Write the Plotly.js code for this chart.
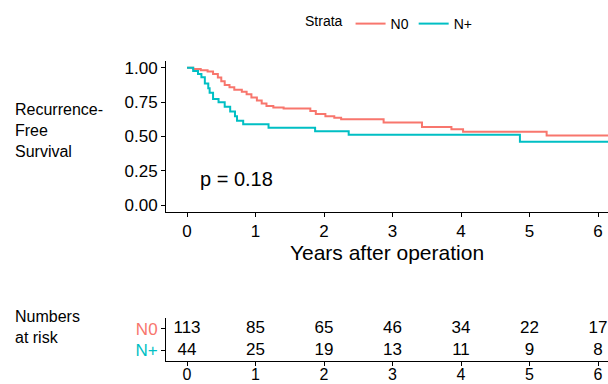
<!DOCTYPE html>
<html><head><meta charset="utf-8">
<script src="https://cdn.plot.ly/plotly-3.0.1.min.js"></script>
<style>html,body{margin:0;padding:0;background:#fff}#c{width:608px;height:384px}</style>
</head><body><div id="c"></div>
<script>
// Kaplan-Meier estimates
const n0Time = [0, 0.09, 0.20, 0.30, 0.38, 0.45, 0.50, 0.55, 0.62, 0.69, 0.80, 0.87, 0.94, 1.02, 1.09, 1.16, 1.26, 1.41, 1.80, 1.88, 2.02, 2.15, 2.25, 2.87, 3.43, 3.86, 4.03, 5.25, 6.2];
const n0Surv = [1.0, 0.991, 0.982, 0.973, 0.956, 0.930, 0.903, 0.876, 0.858, 0.841, 0.826, 0.808, 0.785, 0.762, 0.740, 0.722, 0.711, 0.704, 0.686, 0.664, 0.648, 0.636, 0.626, 0.602, 0.570, 0.553, 0.535, 0.507, 0.507];
const npTime = [0, 0.09, 0.16, 0.21, 0.26, 0.31, 0.33, 0.38, 0.46, 0.55, 0.63, 0.70, 0.73, 0.82, 1.19, 1.87, 2.36, 4.86, 6.2];
const npSurv = [1.0, 0.977, 0.955, 0.932, 0.886, 0.852, 0.818, 0.773, 0.750, 0.716, 0.682, 0.648, 0.614, 0.590, 0.564, 0.538, 0.512, 0.461, 0.461];
const riskYears = [0, 1, 2, 3, 4, 5, 6];
const riskN0 = [113, 85, 65, 46, 34, 22, 17];
const riskNp = [44, 25, 19, 13, 11, 9, 8];
const groupNames = ['N0', 'N+'];
const yTicks = [0, 0.25, 0.5, 0.75, 1];
const pValueText = 'p = 0.18';

const RED = '#F8766D', TEAL = '#00BFC4';
const FONT = 'Liberation Sans, Arial, sans-serif';
const W = 608, H = 384;
const px = v => v / W, py = v => 1 - v / H;

const traces = [
  {x: n0Time, y: n0Surv, mode: 'lines', line: {shape: 'hv', color: RED, width: 2}, name: groupNames[0], xaxis: 'x', yaxis: 'y'},
  {x: npTime, y: npSurv, mode: 'lines', line: {shape: 'hv', color: TEAL, width: 2}, name: groupNames[1], xaxis: 'x', yaxis: 'y'},
  {x: riskYears, y: riskYears.map(() => groupNames[0]), text: riskN0.map(String), mode: 'text', textfont: {family: FONT, size: 17, color: '#000'}, showlegend: false, xaxis: 'x2', yaxis: 'y2', hoverinfo: 'skip'},
  {x: riskYears, y: riskYears.map(() => groupNames[1]), text: riskNp.map(String), mode: 'text', textfont: {family: FONT, size: 17, color: '#000'}, showlegend: false, xaxis: 'x2', yaxis: 'y2', hoverinfo: 'skip'}
];

const xr = [-0.307, 6.146];
const axCommon = {showline: true, linecolor: '#000', linewidth: 1, ticks: 'outside', ticklen: 4, tickcolor: '#000', showgrid: false, zeroline: false, tickfont: {family: FONT, size: 17, color: '#000'}};

const layout = {
  width: W, height: H,
  margin: {l: 0, r: 0, t: 0, b: 0},
  paper_bgcolor: '#fff', plot_bgcolor: '#fff',
  showlegend: true,
  legend: {orientation: 'h', x: px(390), xanchor: 'center', y: py(24), yanchor: 'middle',
    title: {text: 'Strata', font: {family: FONT, size: 14, color: '#000'}},
    font: {family: FONT, size: 14, color: '#000'}, itemwidth: 30},
  xaxis: Object.assign({}, axCommon, {domain: [px(166), 1], range: xr, tickvals: riskYears, anchor: 'y',
    title: {text: 'Years after operation', font: {family: FONT, size: 21, color: '#000'}, standoff: 4}}),
  yaxis: Object.assign({}, axCommon, {domain: [py(212), py(61)], range: [-0.05, 1.05], tickvals: yTicks, tickformat: '.2f', anchor: 'x'}),
  xaxis2: Object.assign({}, axCommon, {domain: [px(166), 1], range: xr, tickvals: riskYears, anchor: 'y2', ticklabelstandoff: -5, tickfont: {family: FONT, size: 16, color: '#000'}}),
  yaxis2: Object.assign({}, axCommon, {domain: [py(361), py(318)], type: 'category', categoryorder: 'array', categoryarray: [groupNames[1], groupNames[0]],
    range: [-0.5, 1.5], tickvals: [groupNames[0], groupNames[1]],
    ticktext: ['<span style="color:' + RED + '">' + groupNames[0] + '</span>', '<span style="color:' + TEAL + '">' + groupNames[1] + '</span>'], anchor: 'x2'}),
  annotations: [
    {xref: 'x', yref: 'y', x: 0.16, y: 0.19, text: pValueText, showarrow: false, xanchor: 'left', yanchor: 'middle', font: {family: FONT, size: 20, color: '#000'}},
    {xref: 'paper', yref: 'paper', x: px(13), y: py(130), text: 'Recurrence-<br>Free<br>Survival', showarrow: false, xanchor: 'left', yanchor: 'middle', align: 'left', font: {family: FONT, size: 16, color: '#000'}},
    {xref: 'paper', yref: 'paper', x: px(13), y: py(327), text: 'Numbers<br>at risk', showarrow: false, xanchor: 'left', yanchor: 'middle', align: 'left', font: {family: FONT, size: 16, color: '#000'}}
  ]
};

Plotly.newPlot('c', traces, layout, {staticPlot: true, displayModeBar: false});
</script></body></html>
